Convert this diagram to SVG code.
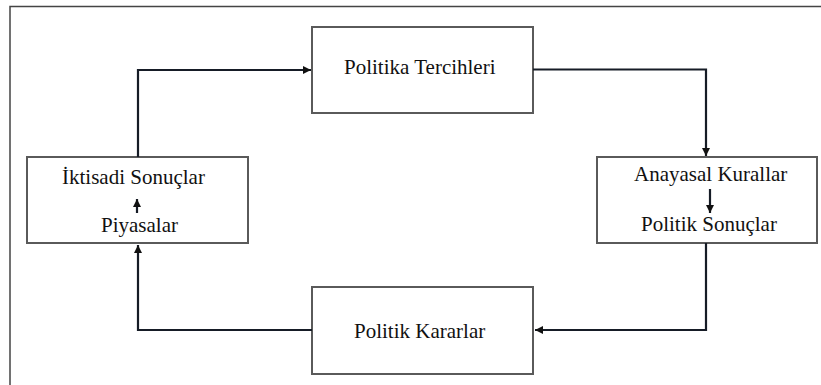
<svg xmlns="http://www.w3.org/2000/svg" width="821" height="385" viewBox="0 0 821 385">
<defs>
<marker id="ah" viewBox="0 0 10 10" refX="10" refY="5" markerWidth="10" markerHeight="8" markerUnits="userSpaceOnUse" orient="auto">
<path d="M0,0 L10,5 L0,10 Z" fill="#111"/>
</marker>
</defs>
<rect width="821" height="385" fill="#fff"/>
<path fill="none" stroke="#444" stroke-width="1.5" d="M10,385 V6.5 H821"/>
<g fill="#fff" stroke="#5a5a5a" stroke-width="2">
<g id="politika-tercihleri"><rect x="312" y="27" width="221" height="86"/></g>
<g id="anayasal-kurallar"><rect x="597" y="157" width="220" height="86"/></g>
<g id="politik-kararlar"><rect x="312" y="287" width="221" height="87"/></g>
<g id="iktisadi-sonuclar"><rect x="27" y="157" width="221" height="86"/></g>
</g>
<g id="labels" fill="#111">
<text x="344" y="74" style="font-family:'Times New Roman','Liberation Serif',serif;font-size:21px">Politika Tercihleri</text>
<text x="634" y="181" style="font-family:'Times New Roman','Liberation Serif',serif;font-size:21px">Anayasal Kurallar</text>
<text x="641" y="231" style="font-family:'Times New Roman','Liberation Serif',serif;font-size:21px">Politik Sonuçlar</text>
<text x="354" y="338" style="font-family:'Times New Roman','Liberation Serif',serif;font-size:21px">Politik Kararlar</text>
<text x="62" y="184" style="font-family:'Times New Roman','Liberation Serif',serif;font-size:21px">İktisadi Sonuçlar</text>
<text x="101" y="232" style="font-family:'Times New Roman','Liberation Serif',serif;font-size:21px">Piyasalar</text>
</g>
<g id="connectors" fill="none" stroke="#161c26" stroke-width="2.2">
<path d="M533,69.5 H706 V156" marker-end="url(#ah)"/>
<path d="M706,243 V330 H535" marker-end="url(#ah)"/>
<path d="M312,330 H138 V245" marker-end="url(#ah)"/>
<path d="M138,157 V70 H311" marker-end="url(#ah)"/>
<path d="M710,189 V213" marker-end="url(#ah)"/>
<path d="M137,213 V199" marker-end="url(#ah)"/>
</g>
</svg>
